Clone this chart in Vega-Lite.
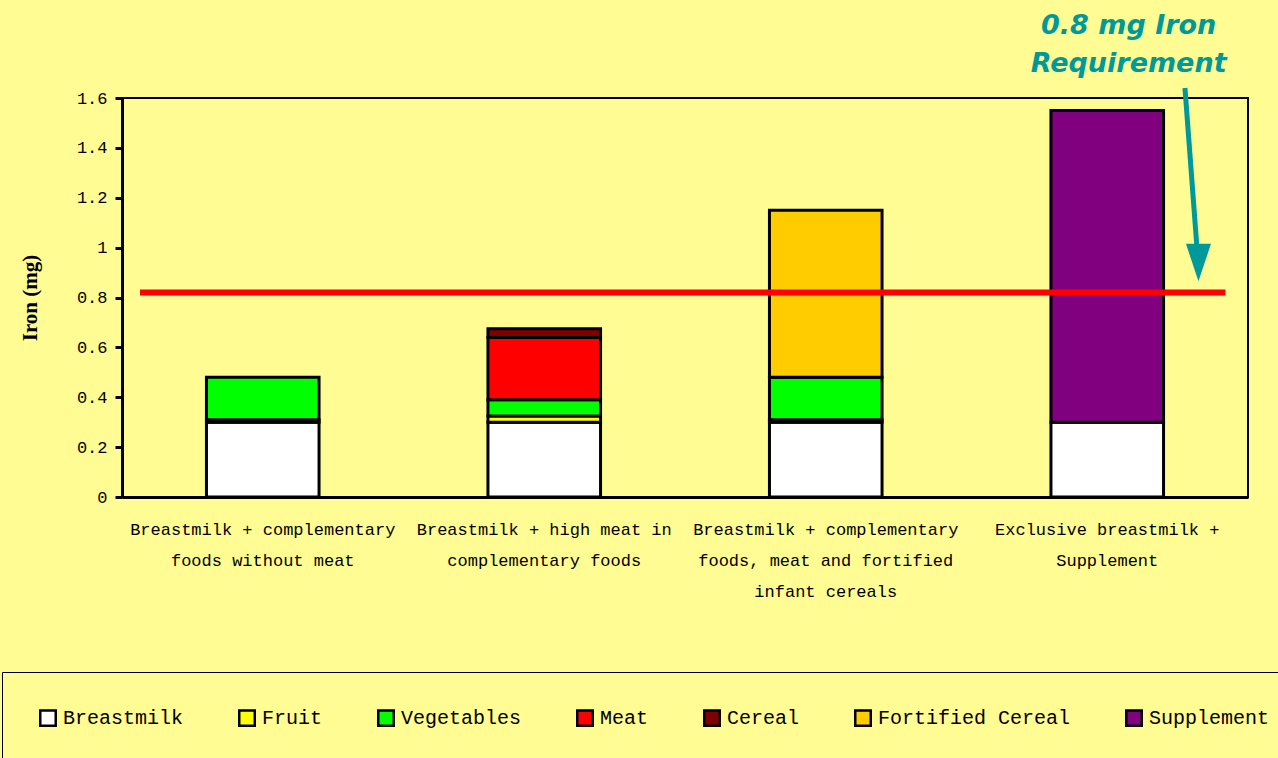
{
  "$schema": "https://vega.github.io/schema/vega-lite/v6.json",
  "width": 1126,
  "height": 399,
  "autosize": {"type": "none"},
  "padding": {"left": 122, "top": 98, "right": 30, "bottom": 261},
  "background": "#FFFC93",
  "config": {
    "view": {"stroke": "black", "strokeWidth": 2},
    "axis": {"labelColor": "black", "titleColor": "black", "domainColor": "black", "tickColor": "black", "grid": false}
  },
  "datasets": {
    "iron": [
      {"scenario": "S1", "food": "Breastmilk", "iron": 0.30, "k": 1},
      {"scenario": "S1", "food": "Fruit", "iron": 0.01, "k": 2},
      {"scenario": "S1", "food": "Vegetables", "iron": 0.17, "k": 3},
      {"scenario": "S2", "food": "Breastmilk", "iron": 0.30, "k": 1},
      {"scenario": "S2", "food": "Fruit", "iron": 0.025, "k": 2},
      {"scenario": "S2", "food": "Vegetables", "iron": 0.065, "k": 3},
      {"scenario": "S2", "food": "Meat", "iron": 0.25, "k": 4},
      {"scenario": "S2", "food": "Cereal", "iron": 0.035, "k": 5},
      {"scenario": "S3", "food": "Breastmilk", "iron": 0.30, "k": 1},
      {"scenario": "S3", "food": "Fruit", "iron": 0.01, "k": 2},
      {"scenario": "S3", "food": "Vegetables", "iron": 0.17, "k": 3},
      {"scenario": "S3", "food": "Fortified Cereal", "iron": 0.67, "k": 6},
      {"scenario": "S4", "food": "Breastmilk", "iron": 0.30, "k": 1},
      {"scenario": "S4", "food": "Supplement", "iron": 1.25, "k": 7}
    ],
    "one": [{"requirement": 0.82}]
  },
  "layer": [
    {
      "data": {"name": "iron"},
      "mark": {"type": "bar", "stroke": "black", "strokeWidth": 3},
      "encoding": {
        "x": {
          "field": "scenario",
          "type": "nominal",
          "sort": ["S1", "S2", "S3", "S4"],
          "scale": {"paddingInner": 0.6, "paddingOuter": 0.3},
          "axis": {
            "title": null,
            "labelAngle": 0,
            "ticks": false,
            "domainWidth": 3,
            "labelFont": "Liberation Mono",
            "labelFontSize": 17,
            "labelLineHeight": 31,
            "labelPadding": 24,
            "labelLimit": 400,
            "labelBaseline": "top",
            "labelExpr": "datum.value == 'S1' ? ['Breastmilk + complementary', 'foods without meat'] : datum.value == 'S2' ? ['Breastmilk + high meat in', 'complementary foods'] : datum.value == 'S3' ? ['Breastmilk + complementary', 'foods, meat and fortified', 'infant cereals'] : ['Exclusive breastmilk +', 'Supplement']"
          }
        },
        "y": {
          "field": "iron",
          "type": "quantitative",
          "stack": "zero",
          "scale": {"domain": [0, 1.6], "nice": false},
          "axis": {
            "title": "Iron (mg)",
            "values": [0, 0.2, 0.4, 0.6, 0.8, 1, 1.2, 1.4, 1.6],
            "format": ".1~f",
            "domainWidth": 3,
            "tickWidth": 3,
            "tickSize": 7,
            "labelPadding": 8,
            "labelFont": "Liberation Mono",
            "labelFontSize": 17,
            "titleFont": "Liberation Serif",
            "titleFontSize": 21,
            "titleFontWeight": "bold",
            "titlePadding": 36
          }
        },
        "color": {
          "field": "food",
          "type": "nominal",
          "scale": {
            "domain": ["Breastmilk", "Fruit", "Vegetables", "Meat", "Cereal", "Fortified Cereal", "Supplement"],
            "range": ["#FFFFFF", "#FFFF00", "#00FF00", "#FF0000", "#800000", "#FFCC00", "#800080"]
          },
          "legend": {
            "orient": "none",
            "legendX": -120,
            "legendY": 574,
            "direction": "horizontal",
            "title": null,
            "symbolType": "square",
            "symbolSize": 240,
            "symbolStrokeWidth": 2.5,
            "symbolStrokeColor": "black",
            "labelFont": "Liberation Mono",
            "labelFontSize": 20,
            "labelColor": "black",
            "labelLimit": 400,
            "labelOffset": 5,
            "columnPadding": 50,
            "padding": 36,
            "strokeColor": "black",
            "fillColor": "#FFFC93"
          }
        },
        "order": {"field": "k", "type": "quantitative"}
      }
    },
    {
      "data": {"name": "one"},
      "mark": {"type": "rule", "color": "#FF0000", "strokeWidth": 6},
      "encoding": {
        "x": {"datum": 0.016, "type": "quantitative", "scale": {"domain": [0, 1], "nice": false}, "axis": null},
        "x2": {"datum": 0.98},
        "y": {"field": "requirement", "type": "quantitative"}
      }
    },
    {
      "data": {"name": "one"},
      "mark": {"type": "rule", "color": "#009999", "strokeWidth": 5},
      "encoding": {
        "x": {"datum": 0.944, "type": "quantitative", "scale": {"domain": [0, 1], "nice": false}, "axis": null},
        "x2": {"datum": 0.955},
        "y": {"datum": 1.64, "type": "quantitative"},
        "y2": {"datum": 0.98}
      }
    },
    {
      "data": {"name": "one"},
      "mark": {"type": "point", "shape": "M-1,-1.5L1,-1.5L0,1.5Z", "filled": true, "color": "#009999", "size": 625, "opacity": 1},
      "encoding": {
        "x": {"datum": 0.956, "type": "quantitative", "scale": {"domain": [0, 1], "nice": false}, "axis": null},
        "y": {"datum": 0.94, "type": "quantitative"}
      }
    },
    {
      "data": {"name": "one"},
      "mark": {"type": "text", "text": ["0.8 mg Iron", "Requirement"], "font": "DejaVu Sans", "fontWeight": "bold", "fontStyle": "italic", "fontSize": 27, "color": "#009999", "align": "center", "baseline": "top", "lineHeight": 38},
      "encoding": {
        "x": {"datum": 0.894, "type": "quantitative", "scale": {"domain": [0, 1], "nice": false}, "axis": null},
        "y": {"datum": 1.94, "type": "quantitative"}
      }
    }
  ],
  "resolve": {"scale": {"x": "independent"}}
}
